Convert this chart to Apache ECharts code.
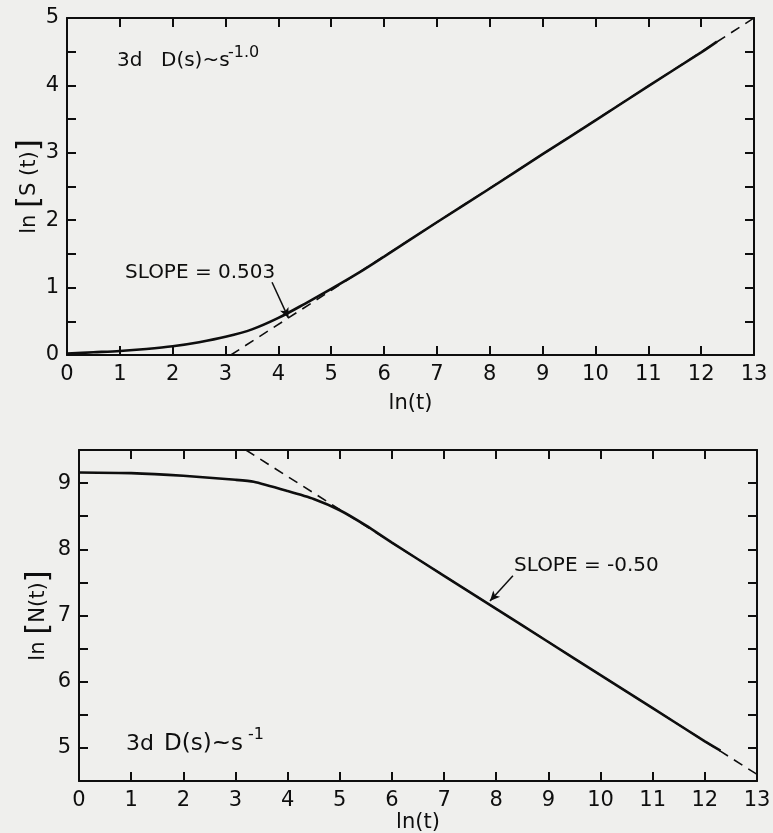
<!DOCTYPE html>
<html>
<head>
<meta charset="utf-8">
<script src="https://cdn.jsdelivr.net/npm/echarts@6/dist/echarts.min.js"></script>
<style>
html,body{margin:0;padding:0;background:#efefed;}
#chart{width:773px;height:833px;}
</style>
</head>
<body>
<div id="chart"></div>
<script>
// ---- Data ----
const xTicks = [0,1,2,3,4,5,6,7,8,9,10,11,12,13];

// Upper panel: ln[S(t)] vs ln(t)
const lnT_S = [0, 0.5, 1, 1.5, 2, 2.5, 3, 3.5, 4, 4.5, 5, 5.5, 6, 7, 8, 9, 10, 11, 12, 12.3];
const lnS   = [0.02, 0.04, 0.06, 0.09, 0.13, 0.19, 0.27, 0.38, 0.55, 0.76, 0.98, 1.21, 1.46, 1.97, 2.47, 2.98, 3.48, 3.99, 4.49, 4.65];
const fitS_x = [3.1, 13];
const fitS_y = [0, 5];
const arrowS = [[3.88, 1.08], [4.19, 0.55]];

// Lower panel: ln[N(t)] vs ln(t)
const lnT_N = [0, 1, 2, 3, 3.35, 4, 4.5, 5, 5.5, 6, 7, 8, 9, 10, 11, 12, 12.3];
const lnN   = [9.16, 9.15, 9.11, 9.05, 9.02, 8.88, 8.76, 8.59, 8.36, 8.10, 7.60, 7.10, 6.60, 6.10, 5.60, 5.10, 4.96];
const fitN_x = [3.2, 13];
const fitN_y = [9.5, 4.6];
const arrowN = [[8.32, 7.60], [7.88, 7.22]];

const ink = '#0e0e0e';
const FONT = 'DejaVu Sans';

function pairs(xs, ys){ return xs.map((x,i)=>[x, ys[i]]); }
function intLabel(v){ return Math.abs(v - Math.round(v)) < 1e-6 ? String(Math.round(v)) : ''; }

function xAx(gi, pos, labels, name, gap){
  return {
    type:'value', gridIndex: gi, position: pos, min:0, max:13, interval:1,
    axisLine:{show:true, onZero:false, lineStyle:{color:ink, width:2}},
    axisTick:{show:true, inside:true, length:9, lineStyle:{color:ink, width:2}},
    axisLabel:{show:labels, color:ink, fontSize:21, fontFamily:FONT, margin:9, showMinLabel:true, showMaxLabel:true},
    splitLine:{show:false},
    name: name || '', nameLocation:'middle', nameGap: gap || 0, nameMoveOverlap:false,
    nameTextStyle:{color:ink, fontSize:21, fontFamily:FONT}
  };
}
function yAx(gi, pos, mn, mx, labels, name, gap){
  return {
    type:'value', gridIndex: gi, position: pos, min:mn, max:mx, interval:0.5,
    axisLine:{show:true, onZero:false, lineStyle:{color:ink, width:2}},
    axisTick:{show:true, inside:true, length:9, lineStyle:{color:ink, width:2}},
    axisLabel:{show:labels, color:ink, fontSize:21, fontFamily:FONT, margin:8, formatter:intLabel, showMinLabel:true, showMaxLabel:true},
    splitLine:{show:false},
    name: name || '', nameLocation:'middle', nameGap: gap || 0, nameRotate: 90, nameMoveOverlap:false,
    nameTextStyle:{color:ink, fontSize:21, fontFamily:FONT,
      rich:{a:{fontSize:21, fontFamily:FONT, color:ink}, b:{fontSize:31, fontFamily:FONT, color:ink}}}
  };
}

const chart = echarts.init(document.getElementById('chart'), null, {renderer:'canvas'});
const option = {
  animation:false,
  backgroundColor:'#efefed',
  grid:[
    {left:67, top:18, width:687, height:337, outerBoundsMode:'none', containLabel:false},
    {left:79, top:450, width:678, height:331, outerBoundsMode:'none', containLabel:false}
  ],
  xAxis:[
    xAx(0,'bottom',true,'ln(t)',38),
    xAx(0,'top',false),
    xAx(1,'bottom',true,'ln(t)',31),
    xAx(1,'top',false)
  ],
  yAxis:[
    yAx(0,'left',0,5,true,'{a|ln }{b|[}{a|S (t)}{b|]}',22),
    yAx(0,'right',0,5,false),
    yAx(1,'left',4.5,9.5,true,'{a|ln }{b|[}{a|N(t)}{b|]}',25),
    yAx(1,'right',4.5,9.5,false)
  ],
  series:[
    {type:'line', xAxisIndex:0, yAxisIndex:0, data:pairs(fitS_x, fitS_y), symbol:'none',
     lineStyle:{color:ink, width:1.6, type:[10,7]}, z:2},
    {type:'line', xAxisIndex:0, yAxisIndex:0, data:pairs(lnT_S, lnS), symbol:'none', smooth:0.3,
     lineStyle:{color:ink, width:2.6}, z:3,
     markLine:{silent:true, symbol:['none','arrow'], symbolSize:[7,10],
       lineStyle:{color:ink, width:1.5, type:'solid'}, label:{show:false},
       data:[[{coord:arrowS[0]},{coord:arrowS[1]}]]}},
    {type:'line', xAxisIndex:2, yAxisIndex:2, data:pairs(fitN_x, fitN_y), symbol:'none',
     lineStyle:{color:ink, width:1.6, type:[10,7]}, z:2},
    {type:'line', xAxisIndex:2, yAxisIndex:2, data:pairs(lnT_N, lnN), symbol:'none', smooth:0.2,
     lineStyle:{color:ink, width:2.6}, z:3,
     markLine:{silent:true, symbol:['none','arrow'], symbolSize:[7,10],
       lineStyle:{color:ink, width:1.5, type:'solid'}, label:{show:false},
       data:[[{coord:arrowN[0]},{coord:arrowN[1]}]]}}
  ],
  graphic:[
    {type:'text', left:117, top:51, style:{text:'3d', fill:ink, font:'20px "DejaVu Sans"'}},
    {type:'text', left:161, top:51, style:{text:'D(s)~s', fill:ink, font:'20px "DejaVu Sans"'}},
    {type:'text', left:228, top:45, style:{text:'-1.0', fill:ink, font:'16px "DejaVu Sans"'}},
    {type:'text', left:125, top:263, style:{text:'SLOPE = 0.503', fill:ink, font:'20px "DejaVu Sans"'}},
    {type:'text', left:514, top:556, style:{text:'SLOPE = -0.50', fill:ink, font:'20px "DejaVu Sans"'}},
    {type:'text', left:126, top:733, style:{text:'3d', fill:ink, font:'22px "DejaVu Sans"'}},
    {type:'text', left:164, top:733, style:{text:'D(s)~s', fill:ink, font:'23px "DejaVu Sans"'}},
    {type:'text', left:248, top:727, style:{text:'-1', fill:ink, font:'16px "DejaVu Sans"'}}
  ]
};
chart.setOption(option);
</script>
</body>
</html>
